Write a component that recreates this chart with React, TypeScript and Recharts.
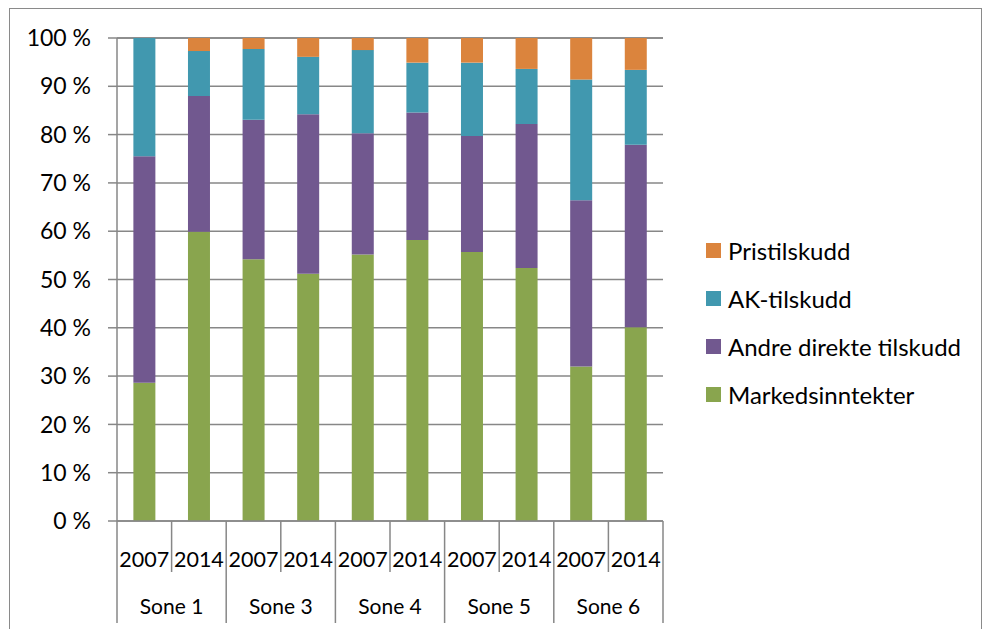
import React from 'react';
import { BarChart, Bar, XAxis, YAxis, CartesianGrid, Legend } from 'recharts';

const zones = ['Sone 1', 'Sone 1', 'Sone 3', 'Sone 3', 'Sone 4', 'Sone 4', 'Sone 5', 'Sone 5', 'Sone 6', 'Sone 6'];
const years = ['2007', '2014', '2007', '2014', '2007', '2014', '2007', '2014', '2007', '2014'];

const markedsinntekter = [28.6, 59.9, 54.2, 51.2, 55.2, 58.2, 55.7, 52.4, 32.0, 40.1];
const andreDirekte = [46.9, 28.1, 28.9, 33.0, 25.1, 26.4, 24.0, 29.8, 34.4, 37.8];
const akTilskudd = [24.5, 9.3, 14.6, 11.9, 17.2, 10.3, 15.2, 11.4, 25.0, 15.5];
const pristilskudd = [0, 2.7, 2.3, 3.9, 2.5, 5.1, 5.1, 6.4, 8.6, 6.6];

const yTicks = [0, 10, 20, 30, 40, 50, 60, 70, 80, 90, 100];
const legendOrder = ['Pristilskudd', 'AK-tilskudd', 'Andre direkte tilskudd', 'Markedsinntekter'];

const data = years.map((year, i) => ({
  key: `${zones[i]}-${year}`,
  year,
  zone: zones[i],
  Markedsinntekter: markedsinntekter[i],
  'Andre direkte tilskudd': andreDirekte[i],
  'AK-tilskudd': akTilskudd[i],
  Pristilskudd: pristilskudd[i],
}));

const WIDTH = 985;
const HEIGHT = 629;
const MARGIN = { top: 38, right: 322, left: 0, bottom: 0 };
const Y_AXIS_W = 117;
const X_AXIS_H = 108;
const PLOT_W = WIDTH - MARGIN.left - MARGIN.right - Y_AXIS_W;
const BAND = PLOT_W / data.length;

const FONT = 'Lato, "Open Sans", sans-serif';
const AXIS = '#878787';

const GroupedTick = (props: any) => {
  const { x, y, index } = props;
  const row = data[index];
  const left = x - BAND / 2;
  const right = x + BAND / 2;
  const groupStart = index % 2 === 0;
  const isLast = index === data.length - 1;
  return (
    <g>
      <line x1={left} x2={left} y1={y} y2={y + (groupStart ? 102 : 51)} stroke={AXIS} strokeWidth={1.5} />
      {isLast && <line x1={right} x2={right} y1={y} y2={y + 102} stroke={AXIS} strokeWidth={1.5} />}
      <text x={x} y={y + 46} textAnchor="middle" fontSize={21.5} fill="#000" fontFamily={FONT}>
        {row.year}
      </text>
      {!groupStart && (
        <text x={left} y={y + 93} textAnchor="middle" fontSize={21} fill="#000" fontFamily={FONT}>
          {row.zone}
        </text>
      )}
    </g>
  );
};

const LegendList = (props: any) => {
  const items = [...(props.payload || [])].sort(
    (a: any, b: any) => legendOrder.indexOf(a.value) - legendOrder.indexOf(b.value)
  );
  return (
    <div style={{ fontFamily: FONT, fontSize: 24, color: '#000' }}>
      {items.map((item: any) => (
        <div key={item.value} style={{ display: 'flex', alignItems: 'center', height: 48 }}>
          <span style={{ width: 15, height: 15, background: item.color, display: 'inline-block', marginRight: 7 }} />
          <span>{item.value}</span>
        </div>
      ))}
    </div>
  );
};

export default function App() {
  return (
    <div style={{ position: 'relative', width: WIDTH, height: HEIGHT, overflow: 'hidden', background: '#fff' }}>
      <style>{`body{margin:0;}`}</style>
      <div
        style={{
          position: 'absolute',
          left: 9,
          top: 8,
          width: 973,
          height: 700,
          border: '1.5px solid #8a8a8a',
          boxSizing: 'border-box',
        }}
      />
      <BarChart width={WIDTH} height={HEIGHT} data={data} margin={MARGIN} barCategoryGap="30%">
        <CartesianGrid horizontal vertical={false} stroke={AXIS} strokeWidth={1.5} />
        <XAxis
          dataKey="key"
          height={X_AXIS_H}
          interval={0}
          tickLine={false}
          tickSize={0}
          tickMargin={0}
          axisLine={{ stroke: AXIS, strokeWidth: 1.5 }}
          tick={<GroupedTick />}
        />
        <YAxis
          width={Y_AXIS_W}
          domain={[0, 100]}
          ticks={yTicks}
          interval={0}
          tickSize={9}
          tickMargin={17}
          tickFormatter={(v: number) => `${v} %`}
          tick={{ fontSize: 23, fill: '#000', fontFamily: FONT }}
          tickLine={{ stroke: AXIS, strokeWidth: 1.5 }}
          axisLine={{ stroke: AXIS, strokeWidth: 1.5 }}
        />
        <Legend
          layout="horizontal"
          verticalAlign="middle"
          align="center"
          itemSorter={null}
          wrapperStyle={{ left: 706, top: 226, width: 275 }}
          content={<LegendList />}
        />
        <Bar dataKey="Markedsinntekter" stackId="a" fill="#89A54E" isAnimationActive={false} />
        <Bar dataKey="Andre direkte tilskudd" stackId="a" fill="#71588F" isAnimationActive={false} />
        <Bar dataKey="AK-tilskudd" stackId="a" fill="#4198AF" isAnimationActive={false} />
        <Bar dataKey="Pristilskudd" stackId="a" fill="#DB843D" isAnimationActive={false} />
      </BarChart>
    </div>
  );
}
